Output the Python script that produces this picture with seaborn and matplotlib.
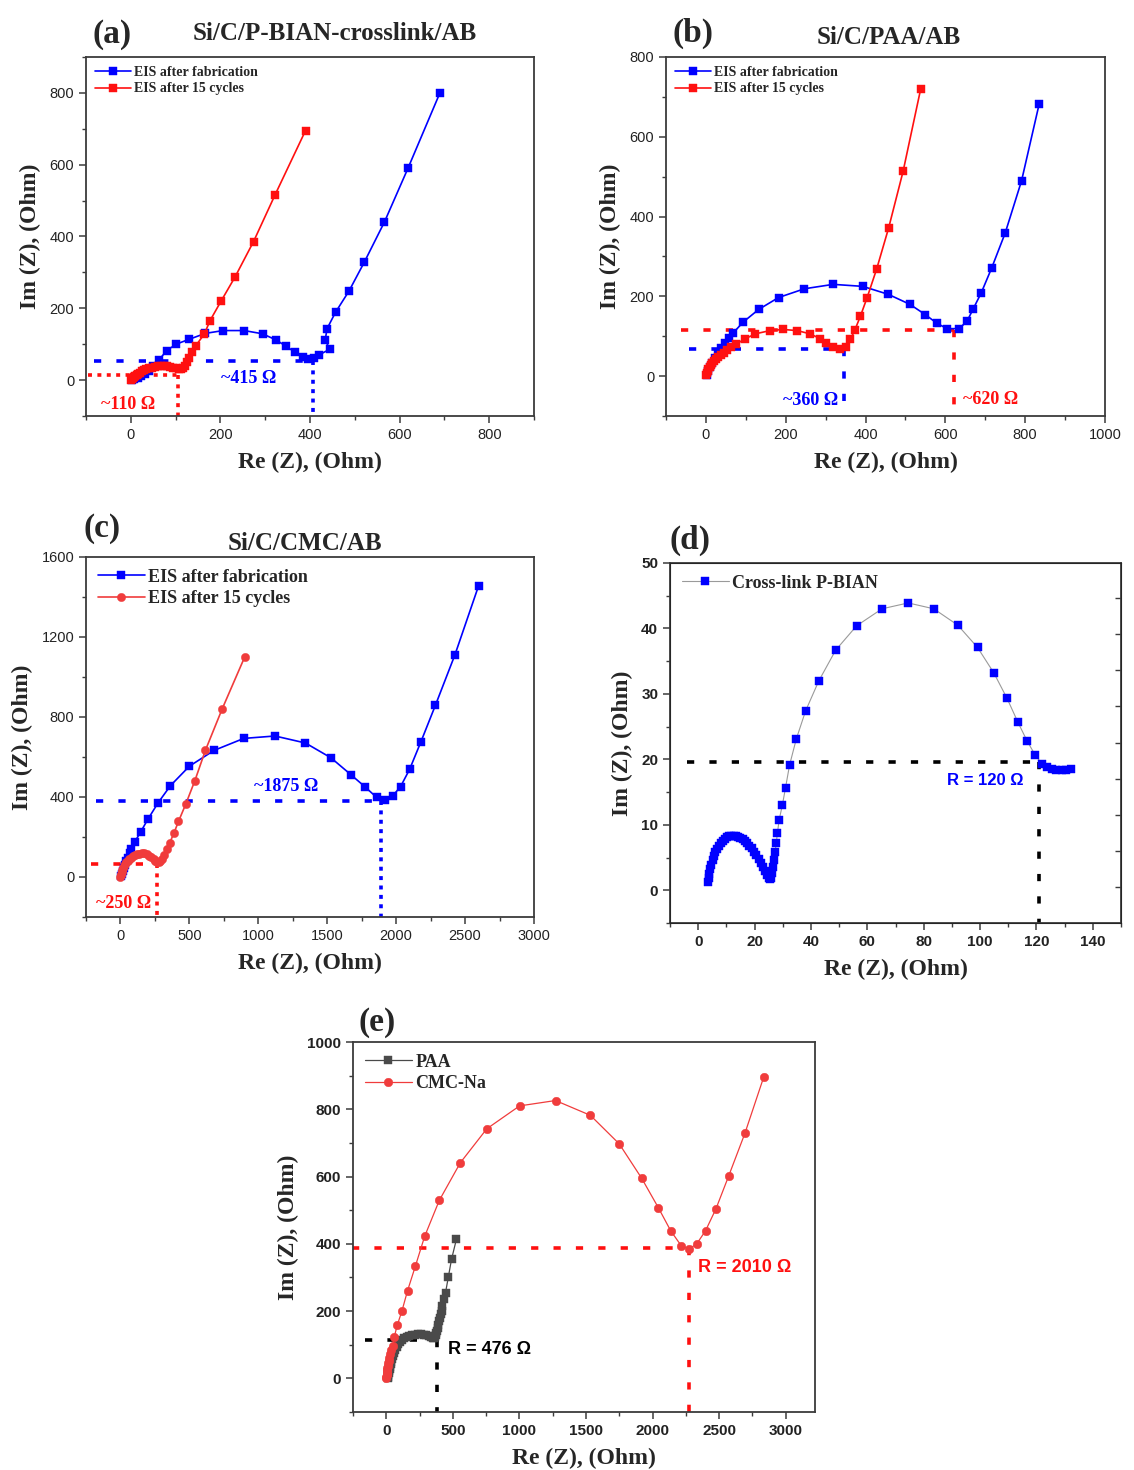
import matplotlib
matplotlib.use("Agg")
import matplotlib.pyplot as plt
import seaborn as sns
from matplotlib.ticker import MultipleLocator

# ---------------- data: Nyquist plots (Re Z, Im Z in Ohm) ----------------
# (a) Si/C/P-BIAN-crosslink/AB
A_FAB_RE = [2, 8, 15, 23, 31, 40, 50, 62, 80, 101, 131, 166, 206, 253, 294, 324, 347, 367,
            385, 396, 408, 420, 444, 434, 438, 457, 487, 521, 566, 619, 690]
A_FAB_IM = [0, 3, 7, 12, 18, 26, 38, 55, 82, 100, 114, 130, 138, 138, 129, 112, 94, 77,
            64, 60, 62, 70, 86, 112, 143, 189, 248, 328, 440, 591, 800]
A_CYC_RE = [0, 2, 4, 7, 10, 13, 17, 21, 25, 30, 35, 41, 47, 53, 60, 67, 74, 81, 88, 95,
            101, 107, 112, 117, 121, 126, 131, 137, 145, 164, 177, 201, 233, 274, 322, 390]
A_CYC_IM = [0, 3, 6, 9, 12, 15, 18, 21, 24, 27, 30, 33, 35, 37, 39, 40, 40, 39, 37, 35,
            33, 31, 31, 34, 40, 50, 62, 77, 96, 128, 166, 219, 288, 386, 516, 695]

# (b) Si/C/PAA/AB
B_FAB_RE = [2, 5, 10, 16, 23, 31, 39, 47, 57, 68, 94, 132, 182, 247, 319, 393, 457, 511,
            550, 578, 604, 634, 654, 669, 690, 716, 750, 791, 835]
B_FAB_IM = [4, 12, 22, 34, 46, 58, 70, 84, 96, 108, 136, 167, 197, 219, 230, 225, 205, 180,
            154, 133, 119, 119, 137, 167, 209, 271, 359, 490, 682]
B_CYC_RE = [1, 2, 4, 6, 9, 12, 16, 20, 25, 31, 37, 45, 54, 64, 76, 97, 124, 160, 194, 229,
            261, 286, 302, 318, 335, 351, 362, 373, 387, 404, 428, 458, 494, 538]
B_CYC_IM = [2, 7, 12, 17, 22, 27, 32, 37, 42, 47, 53, 59, 66, 72, 80, 93, 106, 114, 117, 114,
            106, 94, 82, 73, 69, 72, 92, 115, 150, 197, 269, 372, 513, 719]

# (c) Si/C/CMC/AB
C_FAB_RE = [5, 10, 16, 24, 32, 42, 53, 66, 79, 105, 147, 200, 274, 363, 500, 679, 895, 1121,
            1342, 1527, 1671, 1777, 1858, 1916, 1974, 2032, 2098, 2179, 2285, 2427, 2598]
C_FAB_IM = [5, 15, 28, 44, 60, 78, 97, 118, 139, 177, 226, 290, 372, 457, 554, 633, 693, 705,
            670, 596, 512, 449, 398, 385, 405, 452, 539, 675, 859, 1112, 1456]
C_CYC_RE = [0, 2, 5, 8, 12, 18, 25, 33, 42, 52, 63, 75, 88, 102, 118, 135, 153, 171, 189,
            207, 224, 240, 252, 263, 276, 288, 300, 316, 337, 358, 387, 421, 474, 540, 616,
            737, 900]
C_CYC_IM = [0, 8, 16, 25, 34, 44, 54, 64, 73, 82, 90, 97, 103, 108, 113, 117, 119, 118, 114,
            107, 98, 88, 80, 75, 73, 78, 90, 110, 139, 172, 218, 278, 365, 482, 633, 839, 1098]

# (d) Cross-link P-BIAN
D_RE = [3.5, 3.7, 4.0, 4.3, 4.7, 5.1, 5.6, 6.1, 6.7, 7.3, 8.0, 8.7, 9.4, 10.2, 11.0, 11.8,
        12.6, 13.4, 14.2, 15.0, 15.8, 16.6, 17.4, 18.2, 19.0, 19.8, 20.6, 21.4, 22.2, 23.0,
        23.7, 24.4, 25.0, 25.5, 25.9, 26.2, 26.5, 26.9, 27.3, 27.7, 28.1, 28.7, 29.9, 31.0,
        32.4, 34.8, 38.1, 42.8, 48.8, 56.2, 65.2, 74.5, 83.6, 92.1, 99.1, 104.9, 109.6,
        113.4, 116.7, 119.5, 122.0, 123.9, 125.5, 127.0, 129.0, 130.5, 132.2]
D_IM = [1.2, 1.8, 2.5, 3.2, 3.9, 4.6, 5.2, 5.8, 6.3, 6.8, 7.2, 7.6, 7.9, 8.1, 8.25, 8.3,
        8.3, 8.25, 8.15, 8.0, 7.8, 7.5, 7.2, 6.8, 6.4, 5.9, 5.4, 4.8, 4.2, 3.6,
        3.0, 2.4, 1.9, 1.7, 1.8, 2.6, 3.5, 4.6, 5.9, 7.2, 8.7, 10.7, 13.1, 15.7,
        19.1, 23.1, 27.4, 32.0, 36.7, 40.4, 43.0, 43.9, 43.0, 40.5, 37.1, 33.2, 29.3,
        25.7, 22.8, 20.7, 19.3, 18.8, 18.6, 18.45, 18.4, 18.4, 18.5]

# (e) PAA vs CMC-Na
E_PAA_RE = [10, 13, 16, 19, 22, 26, 30, 34, 39, 45, 52, 60, 69, 79, 90, 103, 118, 135, 153,
            172, 192, 213, 236, 259, 281, 301, 320, 336, 350, 362, 368, 373, 377, 381, 385,
            390, 396, 403, 409, 415, 422, 433, 445, 466, 490, 527]
E_PAA_IM = [0, 5, 10, 16, 22, 28, 35, 42, 50, 58, 67, 76, 85, 94, 102, 109, 115, 120, 124,
            127, 129, 130, 131, 131, 130, 128, 126, 123, 121, 120, 123, 128, 135, 142, 150,
            160, 170, 180, 190, 201, 216, 235, 255, 301, 354, 414]
E_CMC_RE = [0, 1, 2, 3, 5, 7, 9, 12, 15, 19, 24, 30, 38, 48, 60, 84, 118, 160, 218, 288,
            398, 556, 755, 1001, 1271, 1533, 1750, 1918, 2044, 2136, 2214, 2275, 2332, 2398,
            2476, 2571, 2694, 2835]
E_CMC_IM = [0, 4, 9, 14, 19, 25, 31, 38, 45, 53, 62, 72, 84, 97, 124, 160, 201, 261, 333,
            422, 529, 641, 742, 810, 826, 782, 697, 595, 507, 439, 395, 385, 400, 439, 504,
            601, 729, 896]

# Resistance read-offs (Ohm) and the Im level of each guide line
A_R = {"fab": (406, 52, "~415 Ω"), "cyc": (105, 15, "~110 Ω")}
B_R = {"fab": (347, 67, "~360 Ω"), "cyc": (622, 115, "~620 Ω")}
C_R = {"fab": (1890, 378, "~1875 Ω"), "cyc": (263, 67, "~250 Ω")}
D_R = (120.8, 19.6, "R = 120 Ω")
E_R = {"cmc": (2275, 387, "R = 2010 Ω"), "paa": (380, 114, "R = 476 Ω")}

LEG_FAB = "EIS after fabrication"
LEG_CYC = "EIS after 15 cycles"
XLABEL = "Re (Z), (Ohm)"
YLABEL = "Im (Z), (Ohm)"

# ---------------- styling ----------------
sns.set_style("ticks")
SERIF = ["Liberation Serif", "DejaVu Serif"]
SANS = ["Liberation Sans", "DejaVu Sans"]
plt.rcParams["font.family"] = SANS

BLUE = "#0000ff"
RED = "#ff1010"
RED_SOFT = "#f03c3c"
GREY = "#4a4a4a"
SPINE = "#3c3c3c"

W, H = 1134, 1470
fig = plt.figure(figsize=(W / 100, H / 100), dpi=100)


def px_axes(left, top, right, bottom):
    return fig.add_axes([left / W, 1 - bottom / H, (right - left) / W, (bottom - top) / H])


def style(ax, xlim, ylim, xmaj, ymaj, tick_size=10.5, tick_bold=False):
    ax.set_xlim(*xlim)
    ax.set_ylim(*ylim)
    ax.xaxis.set_major_locator(MultipleLocator(xmaj))
    ax.xaxis.set_minor_locator(MultipleLocator(xmaj / 2))
    ax.yaxis.set_major_locator(MultipleLocator(ymaj))
    ax.yaxis.set_minor_locator(MultipleLocator(ymaj / 2))
    ax.tick_params(which="major", direction="out", length=5, width=1.1, color=SPINE,
                   labelsize=tick_size, labelcolor="#222222")
    ax.tick_params(which="minor", direction="out", length=3, width=1.0, color=SPINE)
    for lab in ax.get_xticklabels() + ax.get_yticklabels():
        lab.set_fontweight("bold" if tick_bold else "normal")
    for s in ax.spines.values():
        s.set_visible(True)
        s.set_linewidth(1.3)
        s.set_color(SPINE)
    ax.set_xlabel(XLABEL, family=SERIF, fontsize=17, fontweight="bold", labelpad=7)
    ax.set_ylabel(YLABEL, family=SERIF, fontsize=17, fontweight="bold", labelpad=6)


def series(ax, x, y, color, marker, ms, label, lw=1.2, line_color=None):
    sns.lineplot(x=x, y=y, ax=ax, sort=False, estimator=None, color=line_color or color,
                 marker=marker, markersize=ms, markerfacecolor=color, markeredgecolor=color,
                 markeredgewidth=0.3, linewidth=lw, label=label)


def guide(ax, x_r, y_r, x_start, y_bottom, color, hstyle, vstyle, lw=2.6):
    ax.plot([x_start, x_r], [y_r, y_r], color=color, linestyle=hstyle, linewidth=lw, zorder=1)
    ax.plot([x_r, x_r], [y_r, y_bottom], color=color, linestyle=vstyle, linewidth=lw, zorder=1)


def legend(ax, size, handlelength=2.6):
    ax.legend(loc="upper left", frameon=False, handlelength=handlelength,
              handletextpad=0.2, labelspacing=0.25, borderaxespad=0.25,
              prop=dict(family=SERIF, weight="bold", size=size))


def ftext(x, y, s, size, family=SERIF, ha="center"):
    fig.text(x / W, 1 - y / H, s, fontsize=size, fontweight="bold", family=family,
             ha=ha, va="center")


DASH = (0, (2.0, 4.2))
DOT = (0, (1.1, 1.5))

# ---------------- (a) ----------------
ax = px_axes(86, 57, 534, 416)
guide(ax, *A_R["fab"][:2], -82, -100, BLUE, DASH, DOT)
guide(ax, *A_R["cyc"][:2], -95, -100, RED, DOT, DOT)
series(ax, A_FAB_RE, A_FAB_IM, BLUE, "s", 5.4, LEG_FAB)
series(ax, A_CYC_RE, A_CYC_IM, RED, "s", 5.4, LEG_CYC)
style(ax, (-100, 900), (-100, 900), 200, 200)
ax.text(264, 5, A_R["fab"][2], color=BLUE, family=SERIF, fontsize=13, fontweight="bold",
        ha="center", va="center")
ax.text(-6, -68, A_R["cyc"][2], color=RED, family=SERIF, fontsize=13, fontweight="bold",
        ha="center", va="center")
legend(ax, 10)
ftext(112, 34, "(a)", 24)
ftext(335, 34, "Si/C/P-BIAN-crosslink/AB", 18)

# ---------------- (b) ----------------
ax = px_axes(666, 57, 1105, 416)
guide(ax, *B_R["fab"][:2], -43, -100, BLUE, DASH, DASH)
guide(ax, *B_R["cyc"][:2], -63, -100, RED, DASH, DASH)
series(ax, B_FAB_RE, B_FAB_IM, BLUE, "s", 5.4, LEG_FAB)
series(ax, B_CYC_RE, B_CYC_IM, RED, "s", 5.4, LEG_CYC)
style(ax, (-100, 1000), (-100, 800), 200, 200)
ax.text(261, -62, B_R["fab"][2], color=BLUE, family=SERIF, fontsize=13, fontweight="bold",
        ha="center", va="center")
ax.text(714, -58, B_R["cyc"][2], color=RED, family=SERIF, fontsize=13, fontweight="bold",
        ha="center", va="center")
legend(ax, 10)
ftext(693, 33, "(b)", 24)
ftext(889, 37, "Si/C/PAA/AB", 18)

# ---------------- (c) ----------------
ax = px_axes(86, 557, 534, 917)
guide(ax, *C_R["fab"][:2], -180, -200, BLUE, DASH, DOT)
guide(ax, *C_R["cyc"][:2], -216, -200, RED, DASH, DOT)
series(ax, C_FAB_RE, C_FAB_IM, BLUE, "s", 6, LEG_FAB)
series(ax, C_CYC_RE, C_CYC_IM, RED_SOFT, "o", 6, LEG_CYC)
style(ax, (-250, 3000), (-200, 1600), 500, 400)
ax.text(1204, 452, C_R["fab"][2], color=BLUE, family=SERIF, fontsize=13, fontweight="bold",
        ha="center", va="center")
ax.text(24, -130, C_R["cyc"][2], color=RED, family=SERIF, fontsize=13, fontweight="bold",
        ha="center", va="center")
legend(ax, 13)
ftext(102, 528, "(c)", 24)
ftext(305, 544, "Si/C/CMC/AB", 18)

# ---------------- (d) ----------------
ax = px_axes(670, 563, 1121, 923)
guide(ax, *D_R[:2], -3.8, -5, "black", DASH, DASH)
series(ax, D_RE, D_IM, BLUE, "s", 5.5, "Cross-link P-BIAN", lw=0.8, line_color="#9a9a9a")
style(ax, (-10, 150), (-5, 50), 20, 10, tick_size=11, tick_bold=True)
ax.text(101.7, 16.8, D_R[2], color=BLUE, family=SANS, fontsize=12, fontweight="bold",
        ha="center", va="center")
legend(ax, 13)
rt = ax.twinx()
rt.set_ylim(-0.996, 8.97)
rt.yaxis.set_major_locator(MultipleLocator(1))
rt.tick_params(axis="y", direction="in", length=4, width=1.0, color=SPINE, labelright=False)
rt.grid(False)
ftext(690, 540, "(d)", 24)

# ---------------- (e) ----------------
ax = px_axes(353, 1042, 815, 1412)
guide(ax, *E_R["cmc"][:2], -255, -100, RED, DASH, DASH)
guide(ax, *E_R["paa"][:2], -157, -100, "black", DASH, DASH)
series(ax, E_PAA_RE, E_PAA_IM, GREY, "s", 5.2, "PAA", lw=0.9)
series(ax, E_CMC_RE, E_CMC_IM, RED_SOFT, "o", 6.2, "CMC-Na", lw=0.9)
style(ax, (-250, 3220), (-100, 1000), 500, 200, tick_size=11, tick_bold=True)
ax.text(2692, 330, E_R["cmc"][2], color=RED, family=SANS, fontsize=13, fontweight="bold",
        ha="center", va="center")
ax.text(773, 87, E_R["paa"][2], color="black", family=SANS, fontsize=13, fontweight="bold",
        ha="center", va="center")
legend(ax, 13)
ftext(377, 1022, "(e)", 24)

fig.savefig("out.png", dpi=100, facecolor="white")
